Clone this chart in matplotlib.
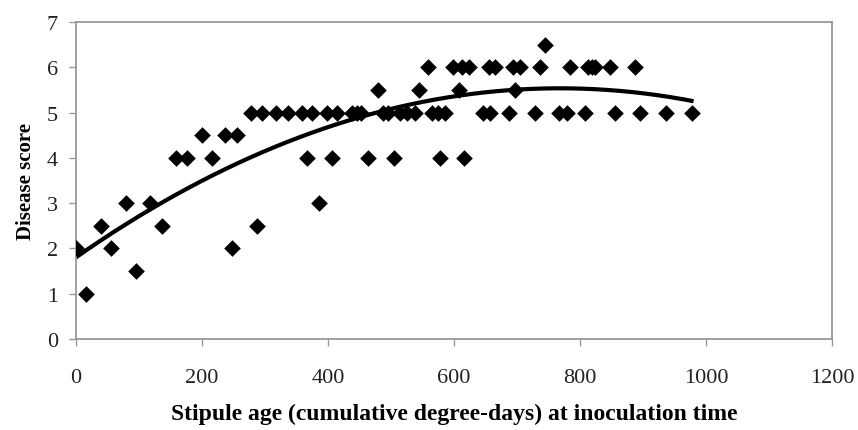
import numpy as np
import matplotlib.pyplot as plt

# stipule age (degree-days) and disease score
stipule_age = [0, 16, 39, 55, 79, 96, 118, 136, 158, 176, 200, 216, 237, 247,
               256, 278, 288, 295, 318, 336, 359, 367, 375, 385, 398, 407, 415,
               438, 446, 453, 464, 480, 488, 496, 504, 514, 525, 538, 545, 559,
               565, 575, 577, 586, 598, 608, 612, 616, 623, 646, 655, 657, 665,
               688, 694, 697, 705, 728, 737, 744, 766, 779, 784, 808, 813, 819,
               824, 848, 856, 887, 895, 937, 977]
disease_score = [2, 1, 2.5, 2, 3, 1.5, 3, 2.5, 4, 4, 4.5, 4, 4.5, 2,
                 4.5, 5, 2.5, 5, 5, 5, 5, 4, 5, 3, 5, 4, 5,
                 5, 5, 5, 4, 5.5, 5, 5, 4, 5, 5, 5, 5.5, 6,
                 5, 5, 4, 5, 6, 5.5, 6, 4, 6, 5, 6, 5, 6,
                 5, 6, 5.5, 6, 5, 6, 6.5, 5, 5, 6, 5, 6, 6,
                 6, 6, 5, 6, 5, 5, 5]

x_ticks = [0, 200, 400, 600, 800, 1000, 1200]
y_ticks = [0, 1, 2, 3, 4, 5, 6, 7]

plt.rcParams['font.family'] = ['Liberation Serif', 'DejaVu Serif']

fig = plt.figure(figsize=(8.58, 4.31), dpi=100)
ax = fig.add_axes([0.0886, 0.2111, 0.8811, 0.7355])

ax.scatter(stipule_age, disease_score, marker='D', s=72, color='black',
           linewidths=0, zorder=3)

# second order polynomial trend line
coef = np.polyfit(stipule_age, disease_score, 2)
xs = np.linspace(min(stipule_age), max(stipule_age), 200)
ax.plot(xs, np.polyval(coef, xs), color='black', lw=3, zorder=2)

ax.set_xlim(0, 1200)
ax.set_ylim(0, 7)
ax.set_xticks(x_ticks)
ax.set_yticks(y_ticks)
ax.tick_params(labelsize=16, color='#999999', length=5, width=1,
               labelcolor='#222222')
ax.tick_params(axis='x', pad=16)
ax.tick_params(axis='y', pad=8)
for s in ax.spines.values():
    s.set_color('#999999')
    s.set_linewidth(1.3)

ax.set_xlabel('Stipule age (cumulative degree-days) at inoculation time',
              fontsize=17, fontweight='bold', labelpad=11)
ax.set_ylabel('Disease score', fontsize=15, fontweight='bold', labelpad=8)

fig.savefig('out.png', dpi=100)
